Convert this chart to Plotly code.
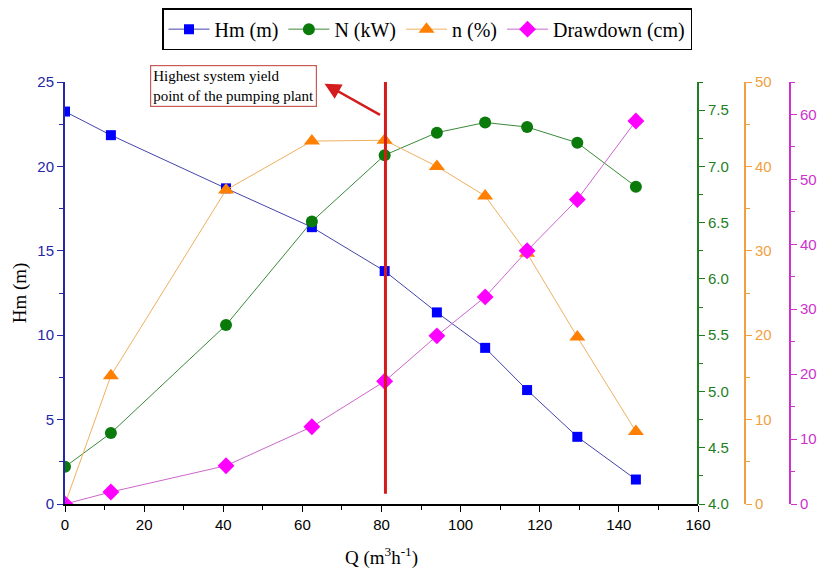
import plotly.graph_objects as go

# ---- data ----
Q = [0, 11.6, 40.7, 62.4, 80.8, 94, 106.2, 116.8, 129.5, 144.3]
Hm = [23.25, 21.85, 18.7, 16.4, 13.8, 11.35, 9.25, 6.75, 3.98, 1.45]
N_kW = [4.33, 4.63, 5.59, 6.51, 7.10, 7.30, 7.39, 7.35, 7.21, 6.82]
eff = [0, 15.2, 37.2, 43.0, 43.1, 40.0, 36.5, 29.7, 19.8, 8.6]
drawdown = [0, 1.85, 5.9, 11.9, 18.9, 25.9, 31.9, 39.0, 46.9, 59.0]

PEAK_Q = 81
x_ticks = [0, 20, 40, 60, 80, 100, 120, 140, 160]

serif = "Liberation Serif, Times New Roman, serif"
sans = "Liberation Sans, Arial, sans-serif"

C_BLUE_AX = "#2626a6"
C_GREEN_AX = "#1f7f1f"
C_ORANGE_AX = "#f0a040"
C_MAG_AX = "#cc33cc"

fig = go.Figure()
fig.add_trace(go.Scatter(x=Q, y=Hm, name="Hm (m)", mode="lines+markers",
                         line=dict(color="#4444aa", width=1),
                         marker=dict(symbol="square", size=10, color="#0000ff"),
                         yaxis="y"))
fig.add_trace(go.Scatter(x=Q, y=N_kW, name="N (kW)", mode="lines+markers",
                         line=dict(color="#3a8a3a", width=1),
                         marker=dict(symbol="circle", size=12, color="#0a7a0a"),
                         yaxis="y2"))
fig.add_trace(go.Scatter(x=Q, y=eff, name="n (%)", mode="lines+markers",
                         line=dict(color="#f0b060", width=1),
                         marker=dict(symbol="triangle-up", size=14, color="#ff8000"),
                         yaxis="y3"))
fig.add_trace(go.Scatter(x=Q, y=drawdown, name="Drawdown (cm)", mode="lines+markers",
                         line=dict(color="#cc66cc", width=1),
                         marker=dict(symbol="diamond", size=13, color="#ff00ff"),
                         yaxis="y4"))

ML, MR, MT, MB = 57, 30, 74, 79
PW = 826 - ML - MR
XD = 633 / PW
fig.update_layout(
    width=826, height=575,
    margin=dict(l=ML, r=MR, t=MT, b=MB, autoexpand=False),
    plot_bgcolor="white", paper_bgcolor="white",
    showlegend=True,
    legend=dict(orientation="h", x=(162 - 65) / PW, y=1.175, xanchor="left", yanchor="top",
                bordercolor="black", borderwidth=1.5,
                font=dict(family=serif, size=20, color="black"),
                itemwidth=41, tracegroupgap=0, bgcolor="white"),
    xaxis=dict(domain=[0, XD], range=[0, 160], tickvals=x_ticks, automargin=False,
               ticks="outside", ticklen=6, tickwidth=1.2, tickcolor="black",
               minor=dict(dtick=10, ticks="outside", ticklen=4, tickcolor="black"),
               showline=True, linecolor="black", linewidth=1.5,
               showgrid=False, zeroline=False,
               tickfont=dict(family=sans, size=15, color="black"),
               title=dict(text="Q (m<sup>3</sup>h<sup>-1</sup>)",
                          font=dict(family=serif, size=19, color="black"), standoff=19)),
    yaxis=dict(range=[0, 25], dtick=5, ticks="outside", ticklen=6, tickwidth=1.2,
               tickcolor=C_BLUE_AX, automargin=False,
               minor=dict(dtick=2.5, ticks="outside", ticklen=4, tickcolor=C_BLUE_AX),
               showline=True, linecolor=C_BLUE_AX, linewidth=2,
               showgrid=False, zeroline=False,
               tickfont=dict(family=sans, size=15, color=C_BLUE_AX),
               title=dict(text="Hm (m)", font=dict(family=serif, size=19, color="black"),
                          standoff=6)),
    yaxis2=dict(range=[4, 7.75], dtick=0.5, tickformat=".1f", overlaying="y",
                side="right", anchor="free", position=XD, automargin=False,
                ticks="outside", ticklen=6, tickwidth=1.2, tickcolor=C_GREEN_AX,
                minor=dict(dtick=0.25, ticks="outside", ticklen=4, tickcolor=C_GREEN_AX),
                showline=True, linecolor=C_GREEN_AX, linewidth=2,
                showgrid=False, zeroline=False,
                tickfont=dict(family=sans, size=15, color=C_GREEN_AX)),
    yaxis3=dict(range=[0, 50], dtick=10, overlaying="y",
                side="right", anchor="free", position=(745 - 65) / PW, automargin=False,
                ticks="outside", ticklen=6, tickwidth=1.2, tickcolor=C_ORANGE_AX,
                minor=dict(dtick=5, ticks="outside", ticklen=4, tickcolor=C_ORANGE_AX),
                showline=True, linecolor=C_ORANGE_AX, linewidth=2,
                showgrid=False, zeroline=False,
                tickfont=dict(family=sans, size=15, color=C_ORANGE_AX)),
    yaxis4=dict(range=[0, 65], dtick=10, overlaying="y",
                side="right", anchor="free", position=(790 - 65) / PW, automargin=False,
                ticks="outside", ticklen=6, tickwidth=1.2, tickcolor=C_MAG_AX,
                minor=dict(dtick=5, ticks="outside", ticklen=4, tickcolor=C_MAG_AX),
                showline=True, linecolor=C_MAG_AX, linewidth=2,
                showgrid=False, zeroline=False,
                tickfont=dict(family=sans, size=15, color=C_MAG_AX)),
)

# vertical marker line at the highest-yield point
fig.add_shape(type="line", xref="x", yref="y", x0=PEAK_Q, x1=PEAK_Q, y0=0.6, y1=25,
              line=dict(color="#d41c1c", width=3))

# text box (placed in paper coords, just above the plot top)
fig.add_annotation(xref="paper", yref="paper", x=(150 - 65) / PW, y=1.04,
                   xanchor="left", yanchor="top",
                   text="Highest system yield<br>point of the pumping plant",
                   showarrow=False, align="left",
                   font=dict(family=serif, size=15, color="black"),
                   bordercolor="#c85a5a", borderwidth=1.2, borderpad=2, bgcolor="white")
# arrow
fig.add_annotation(xref="x", yref="y", x=65.6, y=24.9, axref="x", ayref="y",
                   ax=80, ay=23.0, text="", showarrow=True,
                   arrowhead=2, arrowsize=1.3, arrowwidth=2.5, arrowcolor="#d41c1c")

fig.write_html("out.html")
